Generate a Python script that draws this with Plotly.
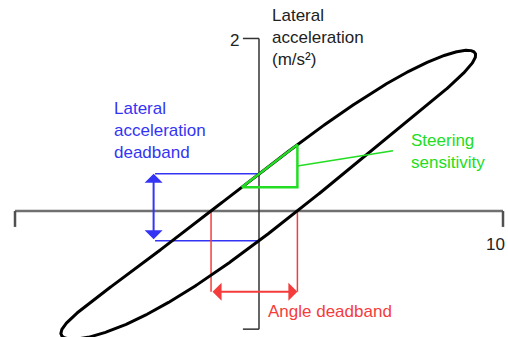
import numpy as np
import plotly.graph_objects as go

# ---- sinusoidal steering test: steering angle in, lateral acceleration out ----
STEER_AMPLITUDE = 8.5        # peak steering angle
STEER_OFFSET = 0.38
ACCEL_AMPLITUDE = 1.714      # peak lateral acceleration (m/s²)
ACCEL_OFFSET = 0.16
PHASE_LAG_DEG = 13.1         # response lag behind the steering input
ACCEL_H2 = -0.035            # second-harmonic (cos) content of the response
ACCEL_H3 = 0.058             # third-harmonic (sin) content of the response

# ---- axes ----
X_LIMITS = [-10, 10]
Y_LIMITS = [-1.37, 2]
Y_TICK_LABEL = "2"
X_TICK_LABEL = "10"
Y_TITLE = "Lateral<br>acceleration<br>(m/s²)"

# ---- annotation labels ----
ACCEL_BAND_LABEL = "Lateral<br>acceleration<br>deadband"
ANGLE_BAND_LABEL = "Angle deadband"
SENSITIVITY_LABEL = "Steering<br>sensitivity"
SENSITIVITY_START = -0.71    # steering angle where the sensitivity triangle starts

# ---- styling / placement ----
FONT = "Liberation Sans, Arial, sans-serif"
BLUE = "#3434f4"
RED = "#f43c3c"
GREEN = "#22dd22"
BLUE_ARROW_X = -4.32
RED_ARROW_Y = -0.936
X_RANGE = [-10.615, 10.205]
Y_RANGE = [-1.461, 2.446]

# ---- the hysteresis loop ----
t = np.linspace(0, 2 * np.pi, 1441)
phi = np.radians(PHASE_LAG_DEG)
steer = STEER_OFFSET + STEER_AMPLITUDE * np.sin(t)
accel = (ACCEL_OFFSET + ACCEL_AMPLITUDE * np.sin(t - phi)
         + ACCEL_H2 * np.cos(2 * t) + ACCEL_H3 * np.sin(3 * t))


def zero_crossings(u, v):
    """Values of v where u changes sign along the loop."""
    out = []
    for i in range(len(u) - 1):
        if u[i] * u[i + 1] < 0:
            f = u[i] / (u[i] - u[i + 1])
            out.append(v[i] + f * (v[i + 1] - v[i]))
    return sorted(out)


angle_band = zero_crossings(accel, steer)     # steering angles at zero acceleration
accel_band = zero_crossings(steer, accel)     # accelerations at zero steering

# upper (returning) branch of the loop, for reading the sensitivity slope
upper = np.cos(t) < 0
up_x = steer[upper][::-1]
up_y = accel[upper][::-1]
sens_x = [SENSITIVITY_START, angle_band[1]]
sens_y = list(np.interp(sens_x, up_x, up_y))

fig = go.Figure()

# loop
fig.add_trace(go.Scatter(x=steer, y=accel, mode="lines",
                         line=dict(color="black", width=3), hoverinfo="skip"))

# steering sensitivity triangle
fig.add_trace(go.Scatter(
    x=[sens_x[0], sens_x[1], sens_x[1], sens_x[0]],
    y=[sens_y[0], sens_y[1], sens_y[0], sens_y[0]],
    mode="lines", line=dict(color=GREEN, width=2.5), hoverinfo="skip"))

shapes = []
tick_y = 0.185

# horizontal axis with end ticks
shapes.append(dict(type="line", x0=X_LIMITS[0], x1=X_LIMITS[1], y0=0, y1=0,
                   line=dict(color="#707070", width=2.5), layer="below"))
for xe in X_LIMITS:
    shapes.append(dict(type="line", x0=xe, x1=xe, y0=0, y1=-tick_y,
                       line=dict(color="#505050", width=2.5), layer="below"))
# vertical axis with end ticks
shapes.append(dict(type="line", x0=0, x1=0, y0=Y_LIMITS[0], y1=Y_LIMITS[1],
                   line=dict(color="#333333", width=1.5), layer="below"))
for ye in Y_LIMITS:
    shapes.append(dict(type="line", x0=-0.66, x1=0, y0=ye, y1=ye,
                       line=dict(color="#333333", width=1.5), layer="below"))

# lateral acceleration deadband guides
for yb in accel_band:
    shapes.append(dict(type="line", x0=BLUE_ARROW_X + 0.06, x1=0, y0=yb, y1=yb,
                       line=dict(color=BLUE, width=1.5), layer="below"))
# angle deadband guides
for xb in angle_band:
    shapes.append(dict(type="line", x0=xb, x1=xb, y0=0, y1=RED_ARROW_Y,
                       line=dict(color=RED, width=1.5), layer="below"))
# pointer to the sensitivity label
shapes.append(dict(type="line", x0=sens_x[1], x1=5.49,
                   y0=(sens_y[0] + sens_y[1]) / 2, y1=0.699,
                   line=dict(color=GREEN, width=1.5), layer="above"))

annotations = []
# double-headed arrows
annotations.append(dict(x=BLUE_ARROW_X, y=accel_band[1], ax=BLUE_ARROW_X, ay=accel_band[0],
                        xref="x", yref="y", axref="x", ayref="y", text="",
                        showarrow=True, arrowside="end+start", arrowhead=1,
                        startarrowhead=1, arrowsize=1.5, startarrowsize=1.5,
                        arrowwidth=2, arrowcolor=BLUE))
annotations.append(dict(x=angle_band[1], y=RED_ARROW_Y, ax=angle_band[0], ay=RED_ARROW_Y,
                        xref="x", yref="y", axref="x", ayref="y", text="",
                        showarrow=True, arrowside="end+start", arrowhead=1,
                        startarrowhead=1, arrowsize=1.5, startarrowsize=1.5,
                        arrowwidth=2, arrowcolor=RED))


def label(text, x, y, color, xanchor="left"):
    annotations.append(dict(text=text, x=x, y=y, xref="x", yref="y",
                            xanchor=xanchor, yanchor="middle", align="left",
                            showarrow=False,
                            font=dict(family=FONT, size=17, color=color)))


label(Y_TITLE, 0.46, 2.006, "#222222")
label(Y_TICK_LABEL, -0.72, 1.98, "#222222", xanchor="right")
label(X_TICK_LABEL, X_RANGE[1] - 0.04, -0.394, "#222222", xanchor="right")
label(ACCEL_BAND_LABEL, -6.02, 0.9275, BLUE)
label(SENSITIVITY_LABEL, 6.16, 0.693, GREEN)
label(ANGLE_BAND_LABEL, 0.29, -1.168, RED)

fig.update_layout(
    width=508, height=337,
    margin=dict(l=0, r=0, t=0, b=0),
    paper_bgcolor="white", plot_bgcolor="white",
    showlegend=False,
    shapes=shapes, annotations=annotations,
    xaxis=dict(range=X_RANGE, visible=False, fixedrange=True),
    yaxis=dict(range=Y_RANGE, visible=False, fixedrange=True),
)

fig.write_html("out.html", config={"displayModeBar": False})
